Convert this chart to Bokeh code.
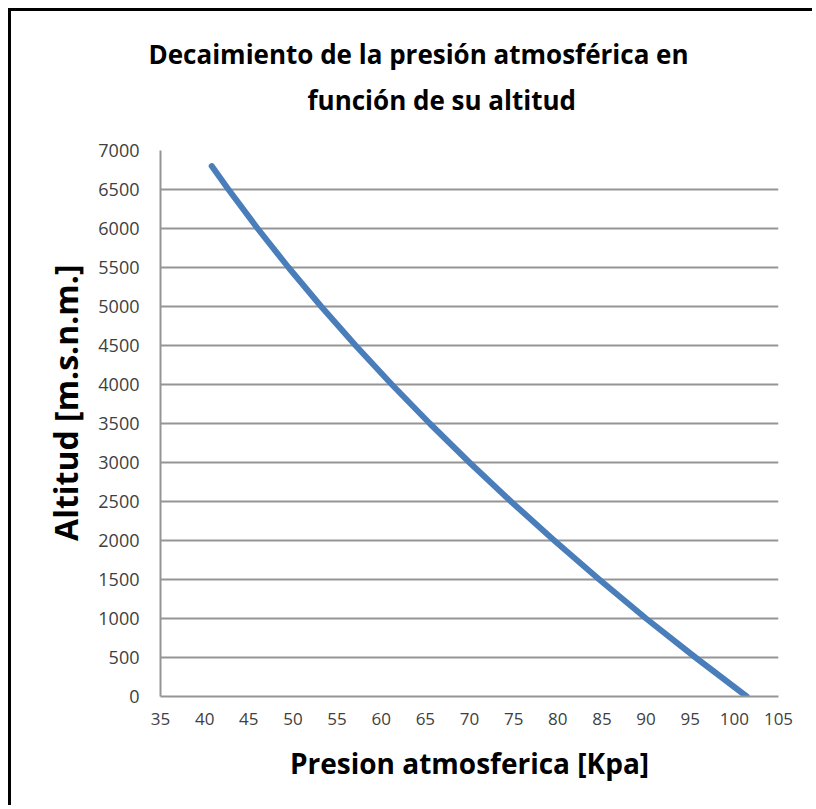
from bokeh.plotting import figure
from bokeh.models import Range1d, Title, FixedTicker
from bokeh.embed import file_html
from bokeh.resources import INLINE

# Data
altitud = [0, 500, 1000, 1500, 2000, 2500, 3000, 3500, 4000, 4500, 5000, 5500, 6000, 6500, 6800]
presion = [101.4, 95.6, 90.0, 84.7, 79.6, 74.7, 70.0, 65.5, 61.2, 57.1, 53.2, 49.5, 46.0, 42.7, 40.8]
x_ticks = [35, 40, 45, 50, 55, 60, 65, 70, 75, 80, 85, 90, 95, 100, 105]
y_ticks = [0, 500, 1000, 1500, 2000, 2500, 3000, 3500, 4000, 4500, 5000, 5500, 6000, 6500, 7000]

title_1 = "Decaimiento de la presión  atmosférica en"
title_2 = "función de su altitud"
x_label = "Presion atmosferica [Kpa]"
y_label = "Altitud [m.s.n.m.]"

W, H = 804, 797
p = figure(width=W, height=H, output_backend="svg", toolbar_location=None,
           x_range=Range1d(35, 105), y_range=Range1d(0, 7000),
           min_border_left=149, min_border_top=139, min_border_right=37, min_border_bottom=112)
p.styles = {"border-left": "3px solid black", "border-top": "3px solid black",
            "margin-left": "8px", "margin-top": "8px"}

p.title = None
t2 = Title(text=title_2, align="left", offset=147, text_font="Open Sans",
           text_font_size="26px", text_font_style="bold", text_color="#000000", standoff=66)
t1 = Title(text=title_1, align="left", offset=-12, text_font="Open Sans",
           text_font_size="26px", text_font_style="bold", text_color="#000000", standoff=-50)
p.add_layout(t2, "above")
p.add_layout(t1, "above")

p.line(presion, altitud, line_color="#4A7EBB", line_width=6, line_cap="round", line_join="round")

p.outline_line_color = None
p.background_fill_color = "white"
p.border_fill_color = "white"

p.xgrid.grid_line_color = None
p.ygrid.grid_line_color = "#959595"
p.ygrid.grid_line_width = 2

p.xaxis.ticker = FixedTicker(ticks=x_ticks)
p.yaxis.ticker = FixedTicker(ticks=y_ticks)
for ax in (p.xaxis, p.yaxis):
    ax.axis_line_color = "#959595"
    ax.axis_line_width = 2
    ax.major_tick_out = 0
    ax.major_tick_in = 0
    ax.minor_tick_out = 0
    ax.minor_tick_in = 0
    ax.major_label_text_font = "Open Sans"
    ax.major_label_text_color = "#404040"
    ax.axis_label_text_font = "Open Sans"
    ax.axis_label_text_font_style = "bold"
    ax.axis_label_text_color = "#000000"

p.xaxis.major_label_text_font_size = "17px"
p.yaxis.major_label_text_font_size = "18px"
p.xaxis.axis_label_text_font_size = "28px"
p.yaxis.axis_label_text_font_size = "32px"

p.xaxis.axis_label = x_label
p.yaxis.axis_label = "\u00a0" * 5 + y_label
p.xaxis.major_label_standoff = 16
p.xaxis.axis_label_standoff = 16
p.yaxis.major_label_standoff = 21
p.yaxis.axis_label_standoff = 8

open("out.html", "w").write(file_html(p, INLINE))
